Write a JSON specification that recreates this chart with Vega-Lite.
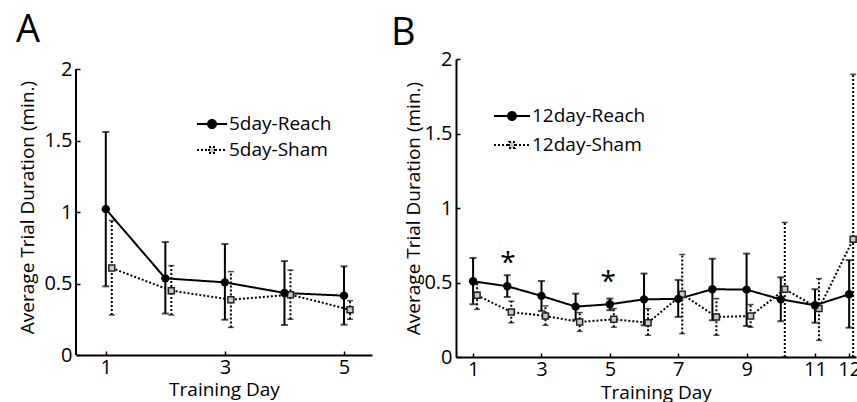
{
  "$schema": "https://vega.github.io/schema/vega-lite/v6.json",
  "padding": {"left": 15, "top": 12, "right": 0, "bottom": 0},
  "spacing": 18,
  "resolve": {"scale": {"strokeDash": "independent"}, "legend": {"strokeDash": "independent"}},
  "config": {
    "font": "Open Sans",
    "view": {"stroke": null},
    "axis": {
      "domainColor": "black", "domainWidth": 2,
      "tickColor": "black", "tickWidth": 1.5, "tickSize": -4,
      "labelColor": "black", "labelFontSize": 20, "labelPadding": 6,
      "titleFontSize": 19, "titleFontWeight": "normal", "titleColor": "black",
      "grid": false
    },
    "title": {"fontSize": 38, "fontWeight": "normal", "anchor": "start", "frame": "bounds", "color": "black"},
    "legend": {
      "orient": "none", "labelFontSize": 19, "labelColor": "black",
      "symbolStrokeWidth": 2, "labelOffset": 1,
      "symbolStrokeColor": "black"
    }
  },
  "hconcat": [
    {
      "title": {"text": "A", "offset": 9, "dx": -3},
      "width": 296,
      "height": 296,
      "data": {"values": [
        {"day": 1, "series": "5day-Reach", "mean": 1.02, "lo": 0.48, "hi": 1.56},
        {"day": 2, "series": "5day-Reach", "mean": 0.536, "lo": 0.29, "hi": 0.79},
        {"day": 3, "series": "5day-Reach", "mean": 0.508, "lo": 0.247, "hi": 0.776},
        {"day": 4, "series": "5day-Reach", "mean": 0.434, "lo": 0.21, "hi": 0.657},
        {"day": 5, "series": "5day-Reach", "mean": 0.415, "lo": 0.212, "hi": 0.62},
        {"day": 1, "series": "5day-Sham", "mean": 0.608, "lo": 0.28, "hi": 0.94},
        {"day": 2, "series": "5day-Sham", "mean": 0.45, "lo": 0.28, "hi": 0.625},
        {"day": 3, "series": "5day-Sham", "mean": 0.387, "lo": 0.193, "hi": 0.583},
        {"day": 4, "series": "5day-Sham", "mean": 0.422, "lo": 0.25, "hi": 0.594},
        {"day": 5, "series": "5day-Sham", "mean": 0.317, "lo": 0.25, "hi": 0.38}
      ]},
      "layer": [
        {
          "mark": {"type": "rule", "strokeWidth": 2, "color": "black"},
          "encoding": {
            "x": {"datum": 0.5, "type": "quantitative"},
            "y": {"datum": 0, "type": "quantitative"},
            "y2": {"datum": 2}
          }
        },
        {
          "transform": [{"filter": "datum.series == '5day-Sham'"}],
          "layer": [
            {"mark": {"type": "rule", "strokeWidth": 2, "strokeDash": [2, 2], "color": "black", "xOffset": 6},
             "encoding": {"x": {"field": "day", "type": "quantitative"}, "y": {"field": "lo", "type": "quantitative"}, "y2": {"field": "hi"}}},
            {"mark": {"type": "tick", "orient": "horizontal", "size": 6, "thickness": 1.5, "color": "black", "strokeDash": [2, 2], "xOffset": 6},
             "encoding": {"x": {"field": "day", "type": "quantitative"}, "y": {"field": "hi", "type": "quantitative"}}},
            {"mark": {"type": "tick", "orient": "horizontal", "size": 6, "thickness": 1.5, "color": "black", "strokeDash": [2, 2], "xOffset": 6},
             "encoding": {"x": {"field": "day", "type": "quantitative"}, "y": {"field": "lo", "type": "quantitative"}}}
          ]
        },
        {
          "transform": [{"filter": "datum.series == '5day-Reach'"}],
          "layer": [
            {"mark": {"type": "rule", "strokeWidth": 2, "color": "black"},
             "encoding": {"x": {"field": "day", "type": "quantitative"}, "y": {"field": "lo", "type": "quantitative"}, "y2": {"field": "hi"}}},
            {"mark": {"type": "tick", "orient": "horizontal", "size": 7, "thickness": 2, "color": "black"},
             "encoding": {"x": {"field": "day", "type": "quantitative"}, "y": {"field": "hi", "type": "quantitative"}}},
            {"mark": {"type": "tick", "orient": "horizontal", "size": 7, "thickness": 2, "color": "black"},
             "encoding": {"x": {"field": "day", "type": "quantitative"}, "y": {"field": "lo", "type": "quantitative"}}}
          ]
        },
        {
          "transform": [{"filter": "datum.series == '5day-Sham'"}],
          "mark": {"type": "line", "strokeWidth": 2, "color": "black", "xOffset": 6},
          "encoding": {
            "x": {"field": "day", "type": "quantitative"},
            "y": {"field": "mean", "type": "quantitative"},
            "strokeDash": {"field": "series", "type": "nominal",
              "scale": {"domain": ["5day-Reach", "5day-Sham"], "range": [[1, 0], [2, 2]]},
              "legend": {"title": null, "legendX": 120, "legendY": 49, "labelFontSize": 19, "symbolSize": 900, "rowPadding": -2,
                "encode": {"symbols": {"update": {
                  "shape": {"signal": "indexof(datum.value, 'Reach') >= 0 ? 'M-1,0H1M-0.27,0A0.27,0.27,0,1,1,0.27,0A0.27,0.27,0,1,1,-0.27,0Z' : 'M-1,0H-0.2M0.2,0H1M-0.2,-0.2H0.2V0.2H-0.2Z'"},
                  "fill": {"signal": "indexof(datum.value, 'Reach') >= 0 ? 'black' : '#c8c8c8'"},
                  "stroke": {"value": "black"}
                }}}}
            }
          }
        },
        {
          "transform": [{"filter": "datum.series == '5day-Reach'"}],
          "mark": {"type": "line", "strokeWidth": 2, "color": "black"},
          "encoding": {
            "x": {"field": "day", "type": "quantitative"},
            "y": {"field": "mean", "type": "quantitative"},
            "strokeDash": {"field": "series", "type": "nominal"}
          }
        },
        {
          "transform": [{"filter": "datum.series == '5day-Sham'"}],
          "mark": {"type": "point", "shape": "square", "filled": true, "fill": "#c8c8c8", "stroke": "#222", "strokeWidth": 1.5, "size": 36, "opacity": 1, "xOffset": 6},
          "encoding": {
            "x": {"field": "day", "type": "quantitative"},
            "y": {"field": "mean", "type": "quantitative"}
          }
        },
        {
          "transform": [{"filter": "datum.series == '5day-Reach'"}],
          "mark": {"type": "point", "shape": "circle", "filled": true, "color": "black", "size": 70, "opacity": 1},
          "encoding": {
            "x": {"field": "day", "type": "quantitative",
              "scale": {"domain": [0.5, 5.47], "nice": false, "zero": false},
              "axis": {"values": [1, 3, 5], "format": "~g", "title": "Training Day", "titlePadding": 3}},
            "y": {"field": "mean", "type": "quantitative",
              "scale": {"domain": [0, 2.07], "nice": false},
              "axis": {"values": [0, 0.5, 1, 1.5, 2], "format": "~g", "domain": false, "title": "Average Trial Duration (min.)", "titlePadding": 6, "labelPadding": 8}}
          }
        }
      ]
    },
    {
      "title": {"text": "B", "offset": -4, "dx": -14},
      "width": 400,
      "height": 298,
      "layer": [
        {
          "data": {"values": [
            {"day": 1, "series": "12day-Reach", "mean": 0.508, "lo": 0.354, "hi": 0.665},
            {"day": 2, "series": "12day-Reach", "mean": 0.475, "lo": 0.403, "hi": 0.549},
            {"day": 3, "series": "12day-Reach", "mean": 0.41, "lo": 0.309, "hi": 0.51},
            {"day": 4, "series": "12day-Reach", "mean": 0.338, "lo": 0.25, "hi": 0.425},
            {"day": 5, "series": "12day-Reach", "mean": 0.354, "lo": 0.314, "hi": 0.392},
            {"day": 6, "series": "12day-Reach", "mean": 0.387, "lo": 0.213, "hi": 0.56},
            {"day": 7, "series": "12day-Reach", "mean": 0.39, "lo": 0.269, "hi": 0.517},
            {"day": 8, "series": "12day-Reach", "mean": 0.455, "lo": 0.246, "hi": 0.66},
            {"day": 9, "series": "12day-Reach", "mean": 0.452, "lo": 0.208, "hi": 0.694},
            {"day": 10, "series": "12day-Reach", "mean": 0.387, "lo": 0.24, "hi": 0.535},
            {"day": 11, "series": "12day-Reach", "mean": 0.347, "lo": 0.23, "hi": 0.455},
            {"day": 12, "series": "12day-Reach", "mean": 0.421, "lo": 0.197, "hi": 0.65},
            {"day": 1, "series": "12day-Sham", "mean": 0.414, "lo": 0.32, "hi": 0.5},
            {"day": 2, "series": "12day-Sham", "mean": 0.302, "lo": 0.23, "hi": 0.374},
            {"day": 3, "series": "12day-Sham", "mean": 0.275, "lo": 0.213, "hi": 0.343},
            {"day": 4, "series": "12day-Sham", "mean": 0.235, "lo": 0.172, "hi": 0.298},
            {"day": 5, "series": "12day-Sham", "mean": 0.253, "lo": 0.2, "hi": 0.325},
            {"day": 6, "series": "12day-Sham", "mean": 0.23, "lo": 0.146, "hi": 0.325},
            {"day": 7, "series": "12day-Sham", "mean": 0.421, "lo": 0.157, "hi": 0.688},
            {"day": 8, "series": "12day-Sham", "mean": 0.269, "lo": 0.146, "hi": 0.392},
            {"day": 9, "series": "12day-Sham", "mean": 0.275, "lo": 0.2, "hi": 0.352},
            {"day": 10, "series": "12day-Sham", "mean": 0.455, "lo": 0, "hi": 0.903},
            {"day": 11, "series": "12day-Sham", "mean": 0.325, "lo": 0.112, "hi": 0.526},
            {"day": 12, "series": "12day-Sham", "mean": 0.79, "lo": 0, "hi": 1.897}
          ]},
          "layer": [
            {
              "transform": [{"filter": "datum.series == '12day-Sham'"}],
              "layer": [
                {"mark": {"type": "rule", "strokeWidth": 2, "strokeDash": [2, 2], "color": "black", "xOffset": 4},
                 "encoding": {"x": {"field": "day", "type": "quantitative"}, "y": {"field": "lo", "type": "quantitative"}, "y2": {"field": "hi"}}},
                {"mark": {"type": "tick", "orient": "horizontal", "size": 6, "thickness": 1.5, "color": "black", "strokeDash": [2, 2], "xOffset": 4},
                 "encoding": {"x": {"field": "day", "type": "quantitative"}, "y": {"field": "hi", "type": "quantitative"}}},
                {"mark": {"type": "tick", "orient": "horizontal", "size": 6, "thickness": 1.5, "color": "black", "strokeDash": [2, 2], "xOffset": 4},
                 "encoding": {"x": {"field": "day", "type": "quantitative"}, "y": {"field": "lo", "type": "quantitative"}}}
              ]
            },
            {
              "transform": [{"filter": "datum.series == '12day-Reach'"}],
              "layer": [
                {"mark": {"type": "rule", "strokeWidth": 2, "color": "black"},
                 "encoding": {"x": {"field": "day", "type": "quantitative"}, "y": {"field": "lo", "type": "quantitative"}, "y2": {"field": "hi"}}},
                {"mark": {"type": "tick", "orient": "horizontal", "size": 7, "thickness": 2, "color": "black"},
                 "encoding": {"x": {"field": "day", "type": "quantitative"}, "y": {"field": "hi", "type": "quantitative"}}},
                {"mark": {"type": "tick", "orient": "horizontal", "size": 7, "thickness": 2, "color": "black"},
                 "encoding": {"x": {"field": "day", "type": "quantitative"}, "y": {"field": "lo", "type": "quantitative"}}}
              ]
            },
            {
              "transform": [{"filter": "datum.series == '12day-Sham'"}],
              "mark": {"type": "line", "strokeWidth": 2, "color": "black", "xOffset": 4},
              "encoding": {
                "x": {"field": "day", "type": "quantitative"},
                "y": {"field": "mean", "type": "quantitative"},
                "strokeDash": {"field": "series", "type": "nominal",
                  "scale": {"domain": ["12day-Reach", "12day-Sham"], "range": [[1, 0], [2, 2]]},
                  "legend": {"title": null, "legendX": 37, "legendY": 38, "labelFontSize": 19, "symbolSize": 1296, "rowPadding": -9,
                    "encode": {"symbols": {"update": {
                      "shape": {"signal": "indexof(datum.value, 'Reach') >= 0 ? 'M-1,0H1M-0.222,0A0.222,0.222,0,1,1,0.222,0A0.222,0.222,0,1,1,-0.222,0Z' : 'M-1,0H-0.167M0.167,0H1M-0.167,-0.167H0.167V0.167H-0.167Z'"},
                      "fill": {"signal": "indexof(datum.value, 'Reach') >= 0 ? 'black' : '#c8c8c8'"},
                      "stroke": {"value": "black"}
                    }}}}
                }
              }
            },
            {
              "transform": [{"filter": "datum.series == '12day-Reach'"}],
              "mark": {"type": "line", "strokeWidth": 2, "color": "black"},
              "encoding": {
                "x": {"field": "day", "type": "quantitative"},
                "y": {"field": "mean", "type": "quantitative"},
                "strokeDash": {"field": "series", "type": "nominal"}
              }
            },
            {
              "transform": [{"filter": "datum.series == '12day-Sham'"}],
              "mark": {"type": "point", "shape": "square", "filled": true, "fill": "#c8c8c8", "stroke": "#222", "strokeWidth": 1.5, "size": 36, "opacity": 1, "xOffset": 4},
              "encoding": {
                "x": {"field": "day", "type": "quantitative"},
                "y": {"field": "mean", "type": "quantitative"}
              }
            },
            {
              "transform": [{"filter": "datum.series == '12day-Reach'"}],
              "mark": {"type": "point", "shape": "circle", "filled": true, "color": "black", "size": 70, "opacity": 1},
              "encoding": {
                "x": {"field": "day", "type": "quantitative",
                  "scale": {"domain": [0.5, 12.2], "nice": false, "zero": false},
                  "axis": {"values": [1, 3, 5, 7, 9, 11, 12], "format": "~g", "title": "Training Day", "titlePadding": 4}},
                "y": {"field": "mean", "type": "quantitative",
                  "scale": {"domain": [0, 2], "nice": false},
                  "axis": {"values": [0, 0.5, 1, 1.5, 2], "format": "~g", "title": "Average Trial Duration (min.)", "titlePadding": 0, "labelPadding": 8}}
              }
            }
          ]
        },
        {
          "data": {"values": [
            {"day": 2.02, "level": 0.658, "mark": "*"},
            {"day": 4.95, "level": 0.53, "mark": "*"}
          ]},
          "mark": {"type": "text", "fontSize": 28, "baseline": "alphabetic", "dy": 13, "color": "black"},
          "encoding": {
            "x": {"field": "day", "type": "quantitative"},
            "y": {"field": "level", "type": "quantitative"},
            "text": {"field": "mark"}
          }
        }
      ]
    }
  ]
}
